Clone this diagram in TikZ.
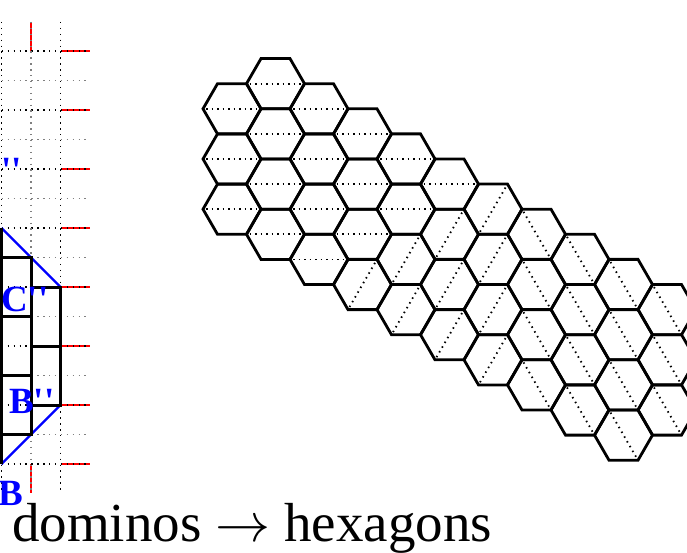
\documentclass[tikz,border=0pt]{standalone}
\usepackage{fix-cm}
\usepackage{fontspec}
\setmainfont{Liberation Serif}
\newfontfamily\labfont[Ligatures=TeXOff]{Liberation Serif}
\tikzset{
        hexedge/.style={line width=2.8pt, line join=miter},
        hexcut/.style={line width=1.8pt, dash pattern=on 1.5pt off 4pt, shorten >=3pt, shorten <=3pt},
        major/.style={line width=1.4pt, dash pattern=on 1.4pt off 4.5pt},
        minor/.style={line width=1.4pt, gray, dash pattern=on 1.4pt off 4.5pt},
        tickmark/.style={red, line width=2.8pt},
        domino/.style={line width=3pt},
        cutline/.style={blue, line width=2.4pt},
        lab/.style={blue, font=\labfont\fontsize{37}{42}\selectfont\bfseries, inner sep=0pt, anchor=base west}
          }

\begin{document}
\begin{tikzpicture}[x=1pt, y=-1pt]
        \useasboundingbox (0,0) rectangle (687,553);
        \clip (0,0) rectangle (687,553);
        % red ticks
        \foreach \j in {0,...,7}
          \draw[tickmark] (61,51+59*\j) -- (90,51+59*\j);
        \draw[tickmark] (31,22) -- (31,51);
        \draw[tickmark] (31,464) -- (31,493);
        % grid
        \foreach \i in {0,...,14}{
          \pgfmathsetmacro\yy{51+29.5*\i}
          \ifodd\i \draw[minor] (-10,\yy) -- (89,\yy);
          \else \draw[major] (-10,\yy) -- (89,\yy); \fi
        }
        \draw[major] (1.5,22) -- (1.5,491);
        \draw[minor] (31,22) -- (31,491);
        \draw[major] (60.5,22) -- (60.5,491);
        % dominos
        \draw[cutline] (1.5,228) -- (60.5,287);
        \draw[cutline] (60.5,405) -- (1.5,464);
        \draw[domino] (1.5,228) -- (1.5,464);
        \foreach \t in {257.5,316.5,375.5}
          \draw[domino] (1.5,\t) rectangle (31,\t+59);
        \foreach \t in {287,346}
          \draw[domino] (31,\t) rectangle (60.5,\t+59);
        \node[lab] (top) at (1,183) {''};
        \node[lab] (cpp) at (1,311) {C''};
        \node[lab] (bpp) at (9,413) {B''};
        \node[lab] (b) at (-2,505) {B};
        % hexagons
        \foreach \k/\mt/\mb/\hm/\dir in {0/0/4/99/0, 1/-1/5/99/0, 2/0/6/99/0, 3/1/7/5/0,
            4/2/8/4/0, 5/3/9/3/0, 6/4/10/-9/0, 7/5/11/-9/1, 8/6/12/-9/1, 9/7/13/-9/1, 10/8/12/-9/1}{
          \pgfmathtruncatemacro\mn{\mt+2}
          \foreach \m in {\mt,\mn,...,\mb}{
            \pgfmathsetmacro\cx{232+43.5*\k}
            \pgfmathsetmacro\cy{108.8+25.1*\m}
            \draw[hexedge] (\cx,\cy) +(0:29) -- +(60:29) -- +(120:29) -- +(180:29)
              -- +(240:29) -- +(300:29) -- cycle;
            \ifnum\m>\hm
              \ifnum\dir=0 \draw[hexcut] (\cx-14.5,\cy+25.1) -- (\cx+14.5,\cy-25.1);
              \else \draw[hexcut] (\cx-14.5,\cy-25.1) -- (\cx+14.5,\cy+25.1); \fi
            \else
              \draw[hexcut] (\cx-29,\cy) -- (\cx+29,\cy);
            \fi
          }
        }
        \node[anchor=base west, inner sep=0pt, font=\fontsize{55}{60}\selectfont] (caption)
          at (12,541) {dominos $\rightarrow$ hexagons};
\end{tikzpicture}
\end{document}
